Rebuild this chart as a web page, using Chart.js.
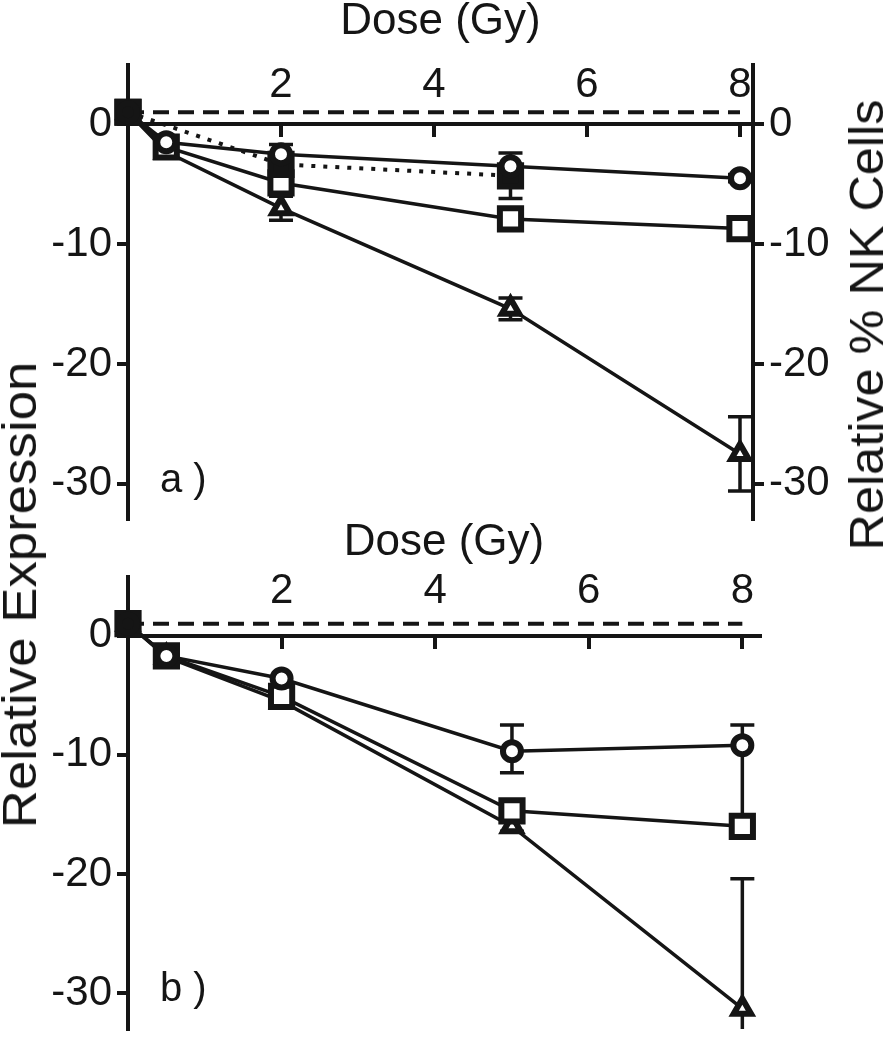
<!DOCTYPE html>
<html>
<head>
<meta charset="utf-8">
<script src="https://cdn.jsdelivr.net/npm/chart.js"></script>
<style>
  body { margin: 0; background: #fff; width: 886px; height: 1050px; position: relative; overflow: hidden; }
  .panel { position: absolute; left: 0; width: 886px; }
  .side { position: absolute; white-space: nowrap; color: #151515; line-height: 1;
          font-family: "Liberation Sans", Arial, sans-serif; }
</style>
</head>
<body>
<div class="panel" style="top:0;height:540px"><canvas id="panelA"></canvas></div>
<div class="panel" style="top:520px;height:530px"><canvas id="panelB"></canvas></div>
<div class="side" style="left:20px;top:595px;font-size:48px;transform:translate(-50%,-50%) rotate(-90deg) scaleX(1.1)">Relative Expression</div>
<div class="side" style="left:867px;top:325px;font-size:48px;transform:translate(-50%,-50%) rotate(-90deg) scaleX(1.05)">Relative % NK Cells</div>
<script>
// doses and tick labels
const doses = [0, 0.5, 2, 5, 8];
const doseTicks = [2, 4, 6, 8];
const yTicks = [0, -10, -20, -30];
const controlDoses = [0, 8];
const controlLevel = [1, 1];

// a) relative expression + NK cells (right axis)
const aCircle = [1, -1.5, -2.5, -3.5, -4.5];
const aCircleErr = [0, 0, 0.8, 0, 0.3];
const aSquare = [1, -1.9, -4.9, -7.9, -8.7];
const aSquareErr = [0, 0, 0.5, 0.4, 0.9];
const aTriangle = [1, -2.3, -7.0, -15.4, -27.5];
const aTriangleErr = [0, 0, 1.0, 0.9, 3.1];
const nkDoses = [0, 2, 5];
const nkCells = [1, -3.35, -4.3];
const nkErr = [0, 0.5, 1.9];

// b) relative expression
const bCircle = [1, -1.7, -3.6, -9.7, -9.2];
const bCircleErrUp = [0, 0, 0, 2.2, 1.7];
const bCircleErrDown = [0, 0, 0, 1.8, 6.4];
const bSquare = [1, -1.7, -5.1, -14.7, -16.0];
const bSquareErr = [0, 0, 0, 0.5, 0.4];
const bTriangle = [1, -1.8, -5.5, -16.0, -31.3];
const bTriangleErr = [0, 0, 0, 0.4, 10.9];

const ink = '#151515';
Chart.defaults.font.family = '"Liberation Sans", Arial, sans-serif';
Chart.defaults.color = ink;

function pts(xs, ys) {
  return xs.map((x, i) => ({x: x, y: ys[i]}));
}

function series(label, xs, ys, style, radius, up, down) {
  return {
    label: label,
    data: pts(xs, ys),
    errUp: up,
    errDown: down || up,
    borderColor: ink,
    borderWidth: 3.5,
    pointStyle: style,
    pointRadius: radius,
    pointHoverRadius: radius,
    pointBorderWidth: 6,
    pointBorderColor: ink,
    // the control point at dose 0 is drawn solid
    pointBackgroundColor: c => (c.raw && c.raw.x === 0) ? ink : '#fff',
    tension: 0,
    fill: false,
    clip: false
  };
}

function controlLine() {
  return {
    label: 'control', data: pts(controlDoses, controlLevel),
    borderColor: ink, borderWidth: 4, borderDash: [16, 9], pointRadius: 0, fill: false
  };
}

// error bars, drawn under the markers
const errorBars = {
  id: 'errorBars',
  beforeDatasetsDraw(chart) {
    const {ctx, chartArea, scales} = chart;
    ctx.save();
    ctx.beginPath();
    ctx.rect(chartArea.left, chartArea.top, chartArea.right - chartArea.left, chartArea.bottom - chartArea.top);
    ctx.clip();
    ctx.strokeStyle = ink;
    ctx.lineWidth = 3.5;
    chart.data.datasets.forEach(ds => {
      if (!ds.errUp) return;
      const ys = scales[ds.yAxisID || 'y'];
      ds.data.forEach((p, i) => {
        const up = ds.errUp[i], down = ds.errDown[i];
        if (!up && !down) return;
        const x = scales.x.getPixelForValue(p.x);
        const yHi = ys.getPixelForValue(p.y + up);
        const yLo = ys.getPixelForValue(p.y - down);
        ctx.beginPath();
        ctx.moveTo(x, yHi);
        ctx.lineTo(x, yLo);
        ctx.moveTo(x - 12, yHi); ctx.lineTo(x + 12, yHi);
        ctx.moveTo(x - 12, yLo); ctx.lineTo(x + 12, yLo);
        ctx.stroke();
      });
    });
    ctx.restore();
  }
};

// "a )" / "b )" tag next to the -30 tick
const panelTag = {
  id: 'panelTag',
  afterDraw(chart, args, opts) {
    const {ctx, chartArea, scales} = chart;
    ctx.save();
    ctx.font = '40px "Liberation Sans", Arial, sans-serif';
    ctx.fillStyle = ink;
    ctx.textBaseline = 'alphabetic';
    ctx.fillText(opts.text, chartArea.left + 32, scales.y.getPixelForValue(-30) + 8);
    ctx.restore();
  }
};

function panel(id, cfg, datasets) {
  const yAxis = (pos, w) => ({
    position: pos, min: cfg.yMin, max: cfg.yMax,
    afterBuildTicks: s => { s.ticks = yTicks.map(v => ({value: v})); },
    afterFit: s => { s.width = w; s.paddingTop = 0; s.paddingBottom = 0; },
    grid: {drawOnChartArea: false, color: ink, lineWidth: 4, tickLength: 11},
    border: {color: ink, width: 4},
    ticks: {font: {size: 42}, color: ink, padding: 5}
  });
  const xBase = {type: 'linear', axis: 'x', min: 0, max: cfg.xMax};
  const scales = {
    x: Object.assign({}, xBase, {
      position: 'top',
      afterFit: s => { s.height = cfg.top; },
      grid: {display: false}, border: {display: false}, ticks: {display: false},
      title: {display: true, text: 'Dose (Gy)', color: ink, font: {size: 44, lineHeight: 1},
              padding: {top: cfg.titlePad, bottom: 0}}
    }),
    xTop: Object.assign({}, xBase, {
      position: {y: cfg.yMax},
      afterBuildTicks: s => { s.ticks = doseTicks.map(v => ({value: v})); },
      grid: {display: false}, border: {display: false},
      ticks: {font: {size: 42, lineHeight: 1}, color: ink, padding: cfg.labelPad, maxRotation: 0}
    }),
    x0: Object.assign({}, xBase, {
      position: {y: 0},
      afterBuildTicks: s => { s.ticks = doseTicks.map(v => ({value: v})); },
      grid: {drawOnChartArea: false, color: ink, lineWidth: 4, tickLength: 11},
      border: {color: ink, width: 4},
      ticks: {display: false}
    }),
    y: yAxis('left', 128)
  };
  if (cfg.rightWidth) scales.y2 = yAxis('right', cfg.rightWidth);

  return new Chart(document.getElementById(id), {
    type: 'line',
    data: {datasets: datasets},
    options: {
      responsive: true,
      maintainAspectRatio: false,
      animation: false,
      layout: {padding: cfg.padding},
      scales: scales,
      plugins: {legend: {display: false}, tooltip: {enabled: false}, panelTag: {text: cfg.tag}}
    },
    plugins: [errorBars, panelTag]
  });
}

const nk = series('NK cells', nkDoses, nkCells, 'rect', 15, nkErr);
nk.yAxisID = 'y2';
nk.borderDash = [4, 8];
nk.borderWidth = 4;
nk.pointBackgroundColor = ink;

panel('panelA', {xMax: 8.17, yMin: -32.93, yMax: 4.94, top: 65, titlePad: 0, labelPad: -9,
                 rightWidth: 133, padding: {bottom: 7}, tag: 'a )'}, [
  series('circle', doses, aCircle, 'circle', 9, aCircleErr),
  nk,
  series('square', doses, aSquare, 'rect', 15, aSquareErr),
  series('triangle', doses, aTriangle, 'triangle', 10, aTriangleErr),
  controlLine()
]);

panel('panelB', {xMax: 8.23, yMin: -33.0, yMax: 4.92, top: 57, titlePad: 1, labelPad: -15,
                 padding: {right: 126}, tag: 'b )'}, [
  series('circle', doses, bCircle, 'circle', 9, bCircleErrUp, bCircleErrDown),
  series('square', doses, bSquare, 'rect', 15, bSquareErr),
  series('triangle', doses, bTriangle, 'triangle', 10, bTriangleErr),
  controlLine()
]);
</script>
</body>
</html>
